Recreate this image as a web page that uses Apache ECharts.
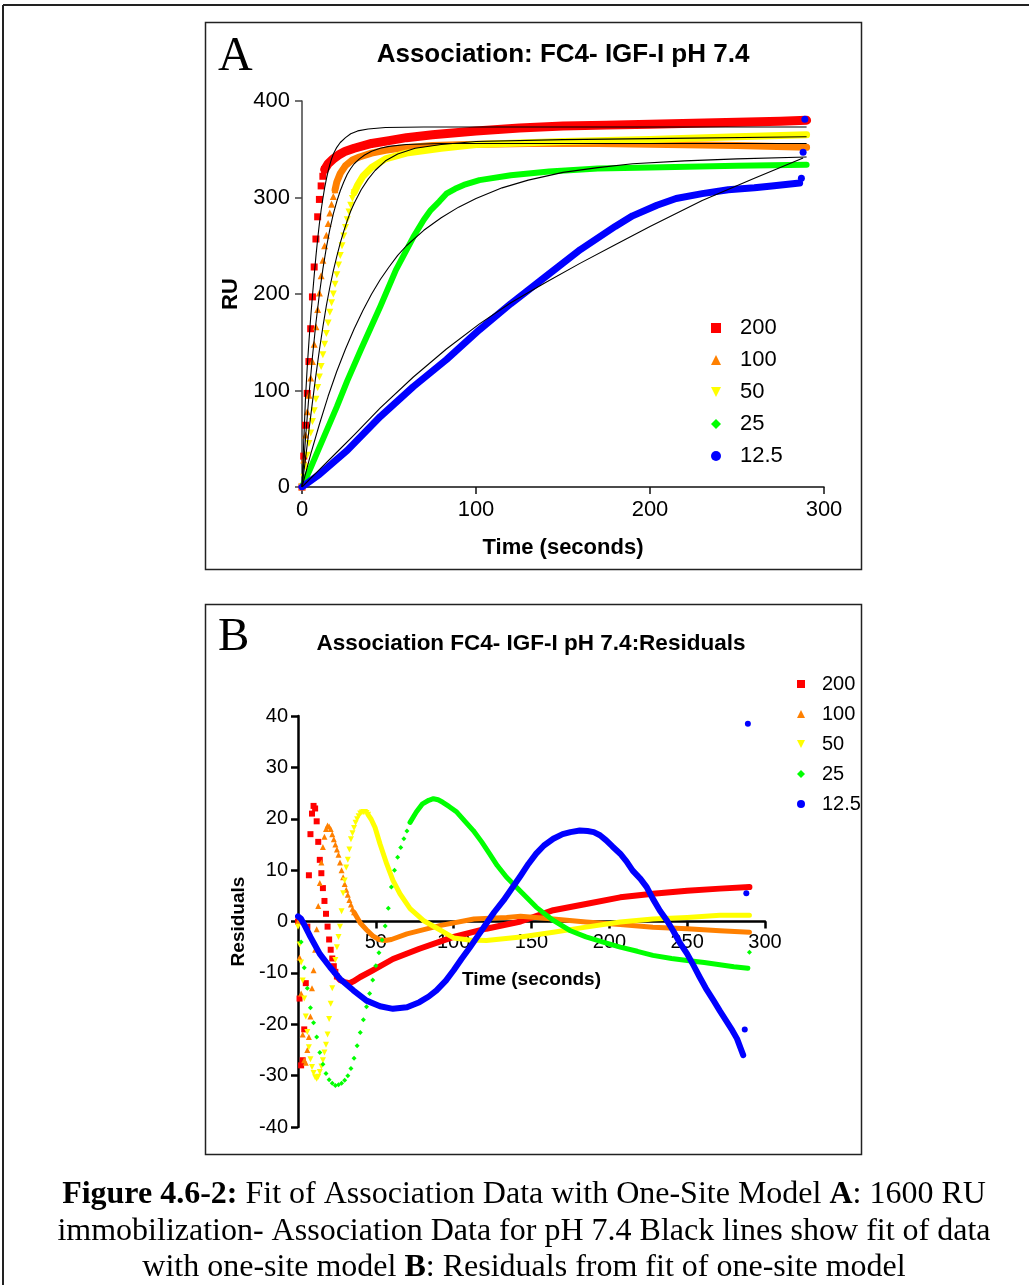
<!DOCTYPE html>
<html>
<head>
<meta charset="utf-8">
<script src="https://cdn.jsdelivr.net/npm/echarts@6/dist/echarts.min.js"></script>
<style>
  html, body { margin: 0; padding: 0; background: #fff; }
  #main { width: 1029px; height: 1285px; }
</style>
</head>
<body>
<div id="main"></div>
<script>
// ---- panel A : association data (RU), heads are 1 s samples from t = 0 ----
var a200Head = [0, 32, 64, 97, 130, 164, 197, 228, 257, 280, 298, 312, 322, 329];
var a200Tail = [[13, 329], [15, 335], [18, 340], [21, 344], [25, 348], [30, 351], [40, 356], [50, 359], [60, 362], [75, 365], [100, 369], [125, 372], [150, 374], [175, 375], [200, 376], [225, 377], [250, 378], [275, 379], [290, 380]];
var a100Head = [0, 28, 54, 78, 95, 113, 130, 148, 166, 184, 201, 219, 235, 250, 261, 273, 284, 293, 301, 308];
var a100Tail = [[19, 308], [20, 316], [22, 325], [25, 333], [29, 339], [33, 342], [40, 346], [48, 349], [56, 351], [75, 354], [95, 355], [130, 356], [170, 356], [210, 355], [250, 354], [290, 352]];
var a50Head = [0, 10, 21, 33, 45, 56, 68, 79, 91, 103, 114, 125, 137, 148, 159, 170, 181, 191, 200, 210, 220, 230, 240, 250, 260, 269, 277, 285, 292, 299, 305];
var a50Tail = [[30, 305], [32, 313], [35, 322], [40, 331], [48, 340], [60, 346], [80, 351], [100, 355], [150, 358], [200, 360], [250, 363], [290, 365]];
var a25Line = [[0, 0], [5, 20], [10, 41], [15, 62], [20, 83], [26, 110], [34, 143], [45, 187], [54, 225], [64, 259], [70, 277], [74, 287], [79, 296], [83, 304], [88, 309], [93, 313], [102, 318], [120, 323], [142, 327], [170, 330], [200, 331], [250, 333], [290, 334]];
var a12Line = [[0, 0], [10, 13], [26, 38], [45, 73], [64, 104], [83, 132], [102, 163], [120, 190], [140, 218], [160, 246], [180, 270], [190, 281], [204, 292], [215, 299], [230, 304], [245, 308], [260, 310], [270, 312], [286, 315]];
var a12End = [[287, 320], [288, 347], [289, 381]];

// one-site model fits (black lines)
var fit200 = [[0, 0], [1, 47], [2, 92], [3, 124], [4, 151], [5, 176], [6, 198], [7, 219], [8, 239], [9, 257], [10, 273], [11, 287], [12, 299], [13, 310], [14, 319], [15, 327], [16, 334], [17, 340], [18, 345], [20, 352], [22, 357], [25, 362], [28, 366], [32, 369], [38, 371], [48, 372.5], [70, 373], [290, 373]];
var fit100 = [[0, 0], [2, 50], [4, 95], [6, 135], [8, 170], [10, 200], [12, 226], [14, 248], [16, 267], [18, 283], [20, 296], [22, 307], [24, 316], [26, 324], [28, 330], [30, 335], [33, 340], [36, 344], [40, 348], [45, 351], [50, 353], [60, 355], [80, 356], [290, 356]];
var fit50 = [[0, 0], [2, 29], [4, 59], [6, 88], [8, 116], [10, 142], [12, 166], [14, 188], [16, 207], [18, 224], [20, 239], [22, 253], [24, 265], [26, 276], [28, 286], [30, 294], [34, 308], [38, 319], [42, 328], [48, 338], [55, 345], [65, 351], [80, 355], [100, 358], [150, 360], [200, 361], [290, 363]];
var fit25 = [[0, 0], [5, 34], [10, 65], [15, 94], [20, 120], [25, 143], [30, 164], [35, 183], [40, 200], [45, 215], [50, 228], [55, 240], [60, 250], [70, 266], [80, 279], [90, 290], [100, 299], [115, 310], [130, 318], [150, 326], [170, 331], [190, 335], [220, 338], [250, 340], [290, 342]];
var fit12 = [[0, 0], [10, 18], [20, 36], [30, 54], [45, 82], [64, 114], [83, 143], [102, 169], [120, 191], [140, 212], [160, 232], [180, 251], [200, 270], [230, 297], [260, 320], [288, 341]];

// ---- panel B : residuals ----
var b200Head = [0, -15, -28, -27, -21, -12, -1, 9, 17, 21, 22.5, 22, 19.5, 15.5, 12, 9.4, 6.5, 4, 1.5, -1, -3.5, -5.5, -7.2, -8.7, -9.8, -10.7];
var b200Tail = [[25, -10.7], [27, -11.4], [30, -11.8], [33, -12], [36, -11.6], [40, -10.8], [48, -9.5], [61, -7.3], [78, -5.3], [100, -3], [121, -1.4], [143, 0], [164, 2.2], [185, 3.4], [207, 4.7], [228, 5.4], [250, 6], [271, 6.4], [290, 6.7]];
var b100Head = [0, -7, -14, -22, -27, -27.5, -25, -22.5, -18.5, -13, -9.5, -5.5, -1.5, 3, 7.5, 11.5, 14.5, 16.5, 18, 18.7, 18.5, 18, 17, 16, 15, 14, 13, 11.5, 10, 8.6, 7.3, 6.2, 5.2, 4.2, 3.3, 2.5, 1.8];
var b100Tail = [[36, 1.8], [40, -0.3], [44, -1.6], [48, -2.8], [52, -3.5], [56, -3.7], [60, -3.5], [70, -2.4], [91, -0.8], [113, 0.5], [134, 0.8], [143, 1], [164, 0.5], [185, -0.1], [207, -0.6], [228, -1.1], [250, -1.4], [271, -1.8], [290, -2.1]];
var b50Head = [-1, -4.5, -8, -11.5, -15, -18.5, -21.5, -24.5, -26.8, -28.3, -29.5, -30.3, -30.6, -30.2, -29.3, -28.2, -27, -25.5, -24, -22, -19, -16, -13, -10, -7.5, -5, -3, -1, 2, 5.5, 8, 10.5, 12, 14, 16, 17.2, 18.2, 19.2, 19.9, 20.5, 21, 21.2, 21.3, 21.3, 21.1, 20.8];
var b50Tail = [[45, 20.8], [47, 19.9], [49.5, 18.3], [52.7, 15.1], [57, 11.2], [61, 8], [65.5, 5.4], [72, 2.5], [80.5, 0.2], [91, -1.6], [100, -3.2], [110, -3.6], [121, -3.7], [143, -3], [164, -2.1], [185, -1.1], [207, -0.1], [228, 0.5], [250, 0.8], [271, 1.2], [290, 1.2]];
// green head is sampled every 2 s
var b25Head = [1, -4, -9, -13, -16.8, -19.7, -22.5, -25.5, -27.8, -29.6, -30.8, -31.5, -31.9, -31.8, -31.5, -30.9, -30, -28.6, -26.6, -24.2, -21.6, -19.1, -16.6, -14, -11.4, -8.6, -6.1, -3.6, -0.9, 2.6, 6.7, 10, 12.5, 14.4, 16.1, 17.6, 19.3];
var b25Tail = [[72, 19.3], [76, 21.3], [80, 22.9], [84, 23.6], [87, 23.9], [90, 23.7], [93, 23.2], [97, 22.4], [102, 21.3], [107, 19.6], [112.6, 17.7], [118, 15.5], [123, 13.2], [128, 10.9], [134, 8.6], [142.6, 6], [153, 2.8], [164, 0.2], [175, -1.8], [185, -3], [196, -4], [207, -5], [218, -5.8], [228, -6.6], [240, -7.2], [250, -7.6], [261, -8], [271, -8.4], [280, -8.8], [289, -9.1]];
var b25End = [[290, -6]];
var b12Line = [[0, 1], [2, 0.5], [5, -1.2], [8, -3], [14, -6.3], [20.6, -8.9], [27, -11.2], [35.5, -13.4], [44, -15.4], [52.7, -16.5], [61, -17], [70, -16.7], [78, -15.7], [84, -14.6], [89, -13.4], [95, -11.5], [100, -9.5], [105, -7.3], [110.5, -5], [116, -2.6], [121, -0.4], [126, 1.8], [132, 4.1], [138, 6.7], [143, 8.9], [148, 11.2], [153, 13.2], [158, 14.8], [164, 16.1], [170, 17], [175, 17.4], [181, 17.7], [186, 17.6], [190, 17.4], [194, 16.8], [198, 15.8], [202, 14.6], [207, 13.2], [211, 11.7], [215, 9.9], [220, 8.3], [224, 6.7], [228, 4.4], [232.5, 2.1], [237, 0.2], [241, -1.8], [245, -4], [250, -6.3], [254, -8.5], [258, -10.8], [262, -13], [267, -15.4], [271, -17.4], [275, -19.3], [279, -21.2], [282, -22.8], [286, -26]];
var b12End = [[287, -21], [288, 5.5], [289, 38.5]];

var names = ['200', '100', '50', '25', '12.5'];
var colors = ['#ff0000', '#ff8000', '#ffff00', '#00ff00', '#0000ff'];
var downTri = 'path://M0,0L10,0L5,10Z';
var icons = ['rect', 'triangle', downTri, 'diamond', 'circle'];

var SANS = '"Liberation Sans", Arial, sans-serif';
var SERIF = '"Liberation Serif", "Times New Roman", serif';

function seq(vals, step) {
  var out = [];
  for (var i = 0; i < vals.length; i++) out.push([i * step, vals[i]]);
  return out;
}

var chart = echarts.init(document.getElementById('main'), null, { renderer: 'canvas' });

function head(k, data, grid, size) {
  return {
    type: 'scatter', name: names[k], xAxisIndex: grid, yAxisIndex: grid,
    symbol: icons[k], symbolSize: size, data: data, z: 2 + k * 0.1,
    itemStyle: { color: colors[k], opacity: 1 }, silent: true
  };
}
function band(k, data, grid, w) {
  return {
    type: 'line', name: names[k], xAxisIndex: grid, yAxisIndex: grid,
    data: data, showSymbol: false, symbol: 'none',
    z: 2 + k * 0.1, itemStyle: { color: colors[k] },
    lineStyle: { color: colors[k], width: w, cap: 'round', join: 'round' }, silent: true
  };
}
function fit(data) {
  return {
    type: 'line', name: 'fit', xAxisIndex: 0, yAxisIndex: 0, data: data,
    showSymbol: false, symbol: 'none', z: 5,
    lineStyle: { color: '#000', width: 1.1, join: 'round' }, silent: true
  };
}

var legendData = names.map(function (n, i) { return { name: n, icon: icons[i] }; });

var option = {
  animation: false,
  backgroundColor: '#fff',
  textStyle: { fontFamily: SANS },
  title: [
    { text: 'Association: FC4- IGF-I pH 7.4', left: 558, top: 37, textAlign: 'center',
      textStyle: { fontFamily: SANS, fontWeight: 'bold', fontSize: 26, color: '#000' } },
    { text: 'Association FC4- IGF-I pH 7.4:Residuals', left: 526, top: 627, textAlign: 'center',
      textStyle: { fontFamily: SANS, fontWeight: 'bold', fontSize: 22.5, color: '#000' } }
  ],
  legend: [
    { data: legendData, orient: 'vertical', left: 706, top: 312, itemWidth: 10, itemHeight: 10, itemGap: 10,
      textStyle: { fontFamily: SANS, fontSize: 22, color: '#000', padding: [0, 0, 0, 14] }, selectedMode: false },
    { data: legendData, orient: 'vertical', left: 792, top: 669, itemWidth: 8, itemHeight: 8, itemGap: 10,
      textStyle: { fontFamily: SANS, fontSize: 20, color: '#000', padding: [0, 0, 0, 12] }, selectedMode: false }
  ],
  grid: [
    { left: 302, top: 101, width: 522, height: 386 },
    { left: 298, top: 716, width: 467, height: 411 }
  ],
  xAxis: [
    { type: 'value', gridIndex: 0, min: 0, max: 300, interval: 100,
      name: 'Time (seconds)', nameLocation: 'middle', nameGap: 50,
      nameTextStyle: { fontFamily: SANS, fontWeight: 'bold', fontSize: 22, color: '#000' },
      axisLine: { lineStyle: { color: '#111', width: 1.5 } },
      axisTick: { length: 7, lineStyle: { color: '#111', width: 1.5 } },
      axisLabel: { margin: 12, fontSize: 22, color: '#000', fontFamily: SANS },
      splitLine: { show: false } },
    // residual time axis sits on the zero line (middle of the -40..40 range)
    { type: 'value', gridIndex: 1, min: 0, max: 300, interval: 50, position: 'bottom', offset: -205.5,
      name: 'Time (seconds)', nameLocation: 'middle', nameGap: 49,
      nameTextStyle: { fontFamily: SANS, fontWeight: 'bold', fontSize: 19, color: '#000' },
      axisLine: { onZero: false, lineStyle: { color: '#000', width: 2.5 } },
      axisTick: { length: 7, lineStyle: { color: '#000', width: 2.5 } },
      axisLabel: { margin: 11, fontSize: 20, color: '#000', fontFamily: SANS, showMinLabel: false },
      splitLine: { show: false } }
  ],
  yAxis: [
    { type: 'value', gridIndex: 0, min: 0, max: 400, interval: 100,
      name: 'RU', nameLocation: 'middle', nameGap: 59, nameRotate: 90,
      nameTextStyle: { fontFamily: SANS, fontWeight: 'bold', fontSize: 22, color: '#000' },
      axisLine: { show: true, lineStyle: { color: '#444', width: 1.5 } },
      axisTick: { show: true, length: 7, lineStyle: { color: '#444', width: 1.5 } },
      axisLabel: { margin: 12, fontSize: 22, color: '#000', fontFamily: SANS },
      splitLine: { show: false } },
    { type: 'value', gridIndex: 1, min: -40, max: 40, interval: 10,
      name: 'Residuals', nameLocation: 'middle', nameGap: 50, nameRotate: 90,
      nameTextStyle: { fontFamily: SANS, fontWeight: 'bold', fontSize: 19, color: '#000' },
      axisLine: { show: true, onZero: false, lineStyle: { color: '#000', width: 2.5 } },
      axisTick: { show: true, length: 7, lineStyle: { color: '#000', width: 2.5 } },
      axisLabel: { margin: 10, fontSize: 20, color: '#000', fontFamily: SANS },
      splitLine: { show: false } }
  ],
  graphic: [
    { type: 'line', shape: { x1: 3, y1: 5, x2: 1029, y2: 5 }, style: { stroke: '#222', lineWidth: 2 } },
    { type: 'line', shape: { x1: 3, y1: 5, x2: 3, y2: 1285 }, style: { stroke: '#222', lineWidth: 2 } },
    { type: 'rect', shape: { x: 205.5, y: 22.5, width: 656, height: 547 }, style: { fill: 'none', stroke: '#222', lineWidth: 1.5 } },
    { type: 'rect', shape: { x: 205.5, y: 604.5, width: 656, height: 550 }, style: { fill: 'none', stroke: '#222', lineWidth: 1.5 } },
    { type: 'text', x: 218, y: 57, style: { text: 'A', fontFamily: SERIF, fontSize: 48, fill: '#000', textVerticalAlign: 'middle' } },
    { type: 'text', x: 218, y: 638, style: { text: 'B', fontFamily: SERIF, fontSize: 47, fill: '#000', textVerticalAlign: 'middle' } },
    { type: 'text', x: 524, y: 1195, style: { text: '{b|Figure 4.6-2:} Fit of Association Data with One-Site Model {b|A}: 1600 RU',
        fontFamily: SERIF, fontSize: 32, fill: '#000', textAlign: 'center', textVerticalAlign: 'middle',
        rich: { b: { fontFamily: SERIF, fontSize: 32, fontWeight: 'bold', fill: '#000' } } } },
    { type: 'text', x: 524, y: 1232, style: { text: 'immobilization- Association Data for pH 7.4 Black lines show fit of data',
        fontFamily: SERIF, fontSize: 32, fill: '#000', textAlign: 'center', textVerticalAlign: 'middle' } },
    { type: 'text', x: 524, y: 1268, style: { text: 'with one-site model {b|B}: Residuals from fit of one-site model',
        fontFamily: SERIF, fontSize: 32, fill: '#000', textAlign: 'center', textVerticalAlign: 'middle',
        rich: { b: { fontFamily: SERIF, fontSize: 32, fontWeight: 'bold', fill: '#000' } } } }
  ],
  series: [
    // panel A
    band(0, a200Tail, 0, 9), head(0, seq(a200Head, 1), 0, 7),
    band(1, a100Tail, 0, 7), head(1, seq(a100Head, 1), 0, 7),
    band(2, a50Tail, 0, 7), head(2, seq(a50Head, 1), 0, 7),
    band(3, a25Line, 0, 6),
    band(4, a12Line, 0, 7), head(4, a12End, 0, 7),
    fit(fit200), fit(fit100), fit(fit50), fit(fit25), fit(fit12),
    // panel B
    band(0, b200Tail, 1, 6), head(0, seq(b200Head, 1), 1, 6),
    band(1, b100Tail, 1, 5), head(1, seq(b100Head, 1), 1, 6),
    band(2, b50Tail, 1, 5), head(2, seq(b50Head, 1), 1, 6),
    band(3, b25Tail, 1, 5), head(3, seq(b25Head, 2), 1, 5), head(3, b25End, 1, 5),
    band(4, b12Line, 1, 6), head(4, b12End, 1, 6)
  ]
};

chart.setOption(option);
</script>
</body>
</html>
